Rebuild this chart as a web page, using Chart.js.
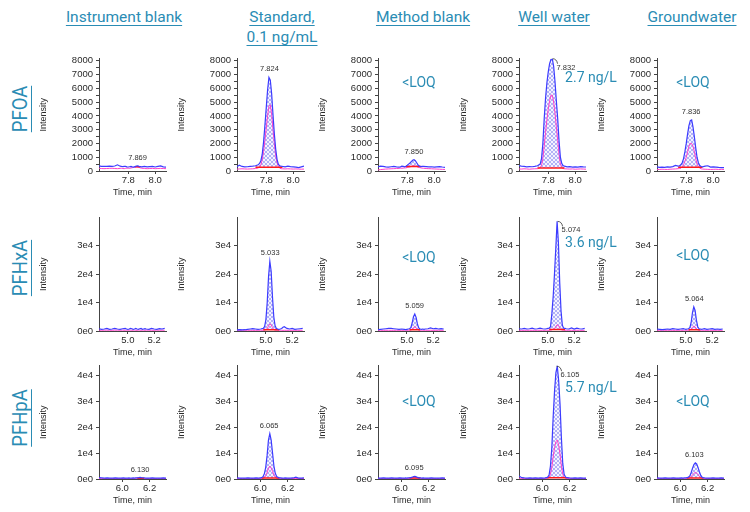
<!DOCTYPE html>
<html>
<head>
<meta charset="utf-8">
<script src="https://cdn.jsdelivr.net/npm/chart.js@4.4.1/dist/chart.umd.min.js"></script>
<style>
  body { margin: 0; background: #fff; }
  #page { position: relative; width: 750px; height: 512px; overflow: hidden; font-family: Roboto, "Open Sans", sans-serif; }
  .hdr { position: absolute; color: #2a8cb4; font-size: 15.5px; white-space: nowrap;
         text-decoration: underline; text-underline-offset: 3px; text-decoration-thickness: 1px;
         transform: translate(-50%, -50%); }
  .cmp { position: absolute; color: #2a8cb4; font-size: 21px; white-space: nowrap;
         text-decoration: underline; text-underline-offset: 4px; text-decoration-thickness: 1px;
         transform: translate(-50%, -50%) rotate(-90deg) scaleX(0.88); }
  .res { position: absolute; color: #2a8cb4; font-size: 14px; white-space: nowrap;
         transform: translate(-50%, -50%); }
  canvas { position: absolute; }
</style>
</head>
<body>
<div id="page"></div>
<script>
// ---- data ----
const samples = ["Instrument blank", "Standard,", "Method blank", "Well water", "Groundwater"];
const compounds = ["PFOA", "PFHxA", "PFHpA"];

// retention time axes (min)
const pfoaTime = [7.58,7.60,7.62,7.64,7.66,7.68,7.70,7.72,
  7.74,7.75,7.76,7.77,7.78,7.79,7.80,7.81,7.82,7.83,7.84,7.85,7.86,7.87,7.88,7.89,7.90,7.91,7.92,
  7.94,7.96,7.98,8.00,8.02,8.04,8.06,8.08];
const pfhxaTime = [4.78,4.80,4.82,4.84,4.86,4.88,4.90,4.92,4.94,4.96,
  4.98,4.99,5.00,5.01,5.02,5.03,5.04,5.05,5.06,5.07,5.08,5.09,5.10,5.11,5.12,5.13,5.14,
  5.16,5.18,5.20,5.22,5.24,5.26,5.28];
const pfhpaTime = [5.83,5.85,5.87,5.89,5.91,5.93,5.95,5.97,5.99,
  6.01,6.02,6.03,6.04,6.05,6.06,6.07,6.08,6.09,6.10,6.11,6.12,6.13,6.14,6.15,6.16,6.17,6.18,
  6.20,6.22,6.24,6.26,6.28,6.30,6.32];

// quantifier trace (blue), one row per sample
const pfoaQuan = [
  [380,330,340,330,350,330,360,450, 350,330,320,340,330,300,290,310,330,300,280,320,360,380,340,320,300,320,340, 300,320,330,290,330,370,300,280],
  [300,420,330,300,310,330,350,380, 450,550,750,1200,2100,3300,4600,5900,6800,6600,5600,4100,2700,1600,850,480,380,350,330, 300,350,320,300,280,250,300,350],
  [300,350,330,300,280,310,330,300, 280,300,350,330,300,350,420,500,580,680,780,820,750,600,450,350,320,330,340, 320,300,310,280,300,320,290,270],
  [400,350,330,300,320,310,330,380, 500,900,2000,3800,5300,6400,7200,7800,8100,8150,7600,6500,5100,3800,2200,1000,550,400,350, 300,320,280,300,280,320,300,290],
  [300,270,280,260,300,280,320,400, 350,380,450,600,900,1400,2000,2700,3300,3650,3700,3200,2500,1700,1000,600,400,330,300, 350,380,280,300,280,260,250,240]
];
const pfhxaQuan = [
  [800,600,700,900,600,700,900,700,600,800, 900,700,600,700,900,800,600,700,900,700,600,800,900,600,700,800,700, 600,900,700,600,800,700,900],
  [400,500,400,450,600,700,800,700,600,700, 900,1500,4000,10000,19000,24500,21000,12000,5000,1800,900,700,600,700,900,1300,1500, 900,700,900,600,700,800,900],
  [500,600,700,800,900,900,800,700,600,700, 600,500,600,700,800,1200,2800,5000,6000,4800,2500,1100,700,600,700,600,700, 800,1100,800,900,700,800,700],
  [800,700,900,700,800,1000,700,800,1000,800, 700,800,900,1000,1500,6000,12000,20000,29000,38500,31000,17000,7000,2000,1000,900,800, 700,1100,700,1000,800,700,900],
  [700,600,500,600,700,600,800,700,600,700, 800,700,600,700,800,1200,3000,6500,8500,7200,3800,1500,800,700,600,700,800, 600,700,800,600,700,600,700]
];
const pfhpaQuan = [
  [500,400,300,400,350,300,400,350,300, 400,350,300,350,400,300,350,400,350,400,450,500,600,500,450,400,350,300, 300,400,350,300,350,400,300],
  [400,300,350,300,400,350,300,400,350, 500,900,2000,4500,9000,15000,17500,15000,10000,5000,2200,1000,600,450,400,350,300,400, 350,300,400,700,350,300,400],
  [300,350,400,350,300,400,350,300,400, 350,300,400,350,400,450,500,700,950,1000,800,600,450,400,350,400,350,300, 350,400,350,300,350,400,350],
  [1200,500,400,350,400,350,400,350,400, 350,400,500,700,1500,5000,12000,24000,34000,41000,43500,38000,29000,16000,6000,1800,800,500, 400,350,400,350,400,350,300],
  [400,350,300,400,350,300,400,350,300, 400,350,400,450,500,700,1200,2500,4200,5600,6200,5800,4500,2800,1400,700,450,400, 350,300,400,350,300,400,350]
];

// qualifier trace (pink)
const pfoaQual = [
  [200,180,170,180,190,200,180,170, 190,200,180,170,190,210,200,190,220,240,260,280,300,290,260,220,200,190,180, 170,180,190,170,180,190,180,170],
  [130,150,160,150,140,150,160,180, 220,300,450,800,1400,2200,3100,4000,4700,4800,4100,3000,2000,1100,600,300,200,170,160, 150,160,150,140,150,140,130,140],
  [80,100,120,140,150,160,170,180, 190,200,200,210,220,230,250,270,300,330,360,380,360,320,280,250,230,210,200, 180,170,160,150,140,130,120,110],
  [150,140,160,150,130,150,160,170, 250,400,900,1800,2800,3700,4500,5100,5500,5500,5000,4200,3200,2200,1200,500,250,180,160, 150,140,150,130,140,150,140,130],
  [120,110,130,120,110,130,140,150, 170,180,200,300,450,700,1000,1400,1800,2000,2000,1800,1400,900,500,300,200,160,140, 130,120,110,120,130,110,120,110]
];
const pfhxaQual = [
  [300,250,280,300,260,250,300,280,270,300, 250,260,280,300,270,250,280,300,260,250,280,300,270,260,280,250,300, 280,260,250,300,270,280,260],
  [250,230,260,250,240,260,250,240,260,250, 260,300,500,800,1800,2500,2200,1200,500,300,260,250,240,260,250,240,260, 250,240,260,250,240,250,260],
  [250,260,240,250,260,250,240,260,250,240, 250,260,240,250,260,300,600,1200,1500,1200,600,300,260,250,240,260,250, 240,260,250,240,260,250,240],
  [260,250,240,260,250,260,240,250,260,250, 240,260,250,260,300,400,600,800,1500,2200,2000,1000,500,300,260,250,240, 260,250,240,260,250,240,260],
  [250,240,260,250,240,260,250,240,260,250, 240,260,250,240,260,300,700,1300,1700,1400,800,400,260,250,240,260,250, 240,260,250,240,260,250,240]
];
const pfhpaQual = [
  [200,150,180,200,150,180,200,170,150, 200,180,150,170,200,180,150,200,250,300,350,300,250,200,180,150,200,170, 150,200,180,150,170,200,180],
  [200,180,200,190,210,200,190,200,210, 200,250,500,1200,2500,4200,5000,4300,3000,1500,700,300,220,200,190,210,200,190, 200,210,190,200,210,200,190],
  [200,190,210,200,190,200,210,190,200, 210,200,190,200,210,220,250,300,350,400,350,300,250,210,200,190,200,210, 190,200,210,190,200,210,200],
  [300,220,200,210,190,200,210,190,200, 210,200,220,300,500,1800,4500,8500,12000,14500,15000,13000,9500,5000,1800,600,300,220, 200,210,190,200,210,190,200],
  [200,190,210,200,190,200,210,190,200, 210,200,190,200,210,300,500,900,1600,2200,2500,2300,1700,1000,500,300,220,200, 190,210,200,190,200,210,190]
];

// integration window [start, end, baseline level] and labelled retention time
const pfoaWindow = [[7.85,7.89,300],[7.72,7.92,280],[7.79,7.90,320],[7.72,7.92,220],[7.74,7.92,280]];
const pfhxaWindow = [null,[4.98,5.10,400],[5.02,5.10,400],[5.01,5.13,500],[5.02,5.11,400]];
const pfhpaWindow = [[6.11,6.16,300],[6.01,6.14,400],[6.06,6.14,350],[6.03,6.18,450],[6.05,6.17,400]];
const pfoaRT = ["7.869","7.824","7.850","7.832","7.836"];
const pfhxaRT = ["","5.033","5.059","5.074","5.064"];
const pfhpaRT = ["6.130","6.065","6.095","6.105","6.103"];

const pfoaResult = ["","","<LOQ","2.7 ng/L","<LOQ"];
const pfhxaResult = ["","","<LOQ","3.6 ng/L","<LOQ"];
const pfhpaResult = ["","","<LOQ","5.7 ng/L","<LOQ"];

// axes (empty label = minor tick)
const pfoaYTicks = [0,500,1000,1500,2000,2500,3000,3500,4000,4500,5000,5500,6000,6500,7000,7500,8000];
const pfoaYLabels = ["0","","1000","","2000","","3000","","4000","","5000","","6000","","7000","","8000"];
const pfhxaYTicks = [0,10000,20000,30000];
const pfhxaYLabels = ["0e0","1e4","2e4","3e4"];
const pfhpaYTicks = [0,10000,20000,30000,40000];
const pfhpaYLabels = ["0e0","1e4","2e4","3e4","4e4"];
const pfoaXTicks = [7.8, 8.0];
const pfhxaXTicks = [5.0, 5.2];
const pfhpaXTicks = [6.0, 6.2];

// ---- layout ----
const page = document.getElementById("page");
const axisX = [99, 237, 378, 519, 657];
const plotW = 67;
const rowsCfg = [
  { time: pfoaTime, quan: pfoaQuan, qual: pfoaQual, win: pfoaWindow, rt: pfoaRT, res: pfoaResult,
    yt: pfoaYTicks, yl: pfoaYLabels, xt: pfoaXTicks, xmin: 7.583, xmax: 8.08, ymax: 8150,
    top: 54, bottom: 171, labelY: 109, resY: [0, 0, 82, 77, 82] },
  { time: pfhxaTime, quan: pfhxaQuan, qual: pfhxaQual, win: pfhxaWindow, rt: pfhxaRT, res: pfhxaResult,
    yt: pfhxaYTicks, yl: pfhxaYLabels, xt: pfhxaXTicks, xmin: 4.78, xmax: 5.29, ymax: 39800,
    top: 213, bottom: 331, labelY: 268, resY: [0, 0, 257, 242, 255] },
  { time: pfhpaTime, quan: pfhpaQuan, qual: pfhpaQual, win: pfhpaWindow, rt: pfhpaRT, res: pfhpaResult,
    yt: pfhpaYTicks, yl: pfhpaYLabels, xt: pfhpaXTicks, xmin: 5.83, xmax: 6.32, ymax: 43700,
    top: 361, bottom: 479, labelY: 418, resY: [0, 0, 401, 387, 401] }
];
const resDX = [0, 0, 41, 72, 36];

function addDiv(cls, text, x, y) {
  const d = document.createElement("div");
  d.className = cls;
  d.textContent = text;
  d.style.left = x + "px";
  d.style.top = y + "px";
  page.appendChild(d);
}

// column headers and compound labels
const hdrX = [124, 282, 423, 554, 692];
samples.forEach((s, i) => addDiv("hdr", s, hdrX[i], 17));
addDiv("hdr", "0.1 ng/mL", 282, 37);
compounds.forEach((c, i) => addDiv("cmp", c, 20, rowsCfg[i].labelY));

Chart.defaults.font.family = '"Liberation Sans", Arial, sans-serif';
Chart.defaults.color = "#2a2a2a";

// crosshatch fill for the integrated peak
function hatch() {
  const c = document.createElement("canvas");
  c.width = c.height = 4;
  const g = c.getContext("2d");
  g.fillStyle = "rgba(235,235,255,0.6)";
  g.fillRect(0, 0, 4, 4);
  g.fillStyle = "rgba(100,100,235,0.45)";
  for (let i = 0; i < 4; i++) { g.fillRect(i, i, 1, 1); g.fillRect(3 - i, i, 1, 1); }
  return g.createPattern(c, "repeat");
}
const hatchFill = hatch();

const peakLabel = {
  id: "peakLabel",
  afterDatasetsDraw(chart, args, o) {
    if (!o.text) return;
    const ctx = chart.ctx;
    const px = chart.scales.x.getPixelForValue(o.t);
    const py = chart.scales.y.getPixelForValue(o.v);
    ctx.save();
    ctx.font = '7.5px "Liberation Sans", Arial';
    ctx.fillStyle = "#333";
    ctx.textBaseline = "middle";
    if (o.side) {
      ctx.strokeStyle = "#333";
      ctx.lineWidth = 0.8;
      ctx.beginPath();
      ctx.moveTo(px, py);
      ctx.quadraticCurveTo(px + 4, py, px + 5, py + 5);
      ctx.stroke();
      ctx.textAlign = "left";
      ctx.fillText(o.text, px + 4, py + 9);
    } else {
      ctx.textAlign = "center";
      ctx.fillText(o.text, px, py - 8);
    }
    ctx.restore();
  }
};

rowsCfg.forEach(r => {
  axisX.forEach((ax, c) => {
    const padTop = 4, yW = 61, xH = 27, padR = 4;
    const cv = document.createElement("canvas");
    const w = yW + plotW + padR, h = padTop + (r.bottom - r.top) + xH;
    cv.width = w; cv.height = h;
    cv.style.left = (ax - yW) + "px";
    cv.style.top = (r.top - padTop) + "px";
    cv.style.width = w + "px"; cv.style.height = h + "px";
    page.appendChild(cv);

    const quan = r.quan[c], qual = r.qual[c], win = r.win[c];
    const blue = r.time.map((t, i) => ({ x: t, y: quan[i] }));
    const pink = r.time.map((t, i) => ({ x: t, y: qual[i] }));
    const datasets = [
      { data: blue, borderColor: "#3c3cff", borderWidth: 1.2 },
      { data: win ? [{ x: win[0], y: win[2] }, { x: win[1], y: win[2] }] : [], borderColor: "#ff1a1a", borderWidth: 1.5 },
      { data: pink, borderColor: "#ff40c8", borderWidth: 1 }
    ];
    let apex = 0;
    if (win) {
      const area = r.time.map((t, i) => ({ x: t, y: (t >= win[0] - 1e-6 && t <= win[1] + 1e-6) ? quan[i] : null }));
      area.forEach(p => { if (p.y !== null && p.y > apex) apex = p.y; });
      datasets.push({ data: area, borderWidth: 0, borderColor: "rgba(0,0,0,0)", spanGaps: false,
        fill: { target: { value: win[2] }, above: hatchFill, below: hatchFill } });
    }

    new Chart(cv, {
      type: "line",
      data: { datasets: datasets.map(d => Object.assign({ pointRadius: 0, tension: 0, fill: false }, d)) },
      plugins: [peakLabel],
      options: {
        responsive: false, animation: false,
        layout: { padding: { top: padTop, right: padR, left: 0, bottom: 0 } },
        plugins: {
          legend: { display: false }, tooltip: { enabled: false },
          peakLabel: { text: r.rt[c], t: parseFloat(r.rt[c]), v: apex, side: c === 3 }
        },
        scales: {
          x: {
            type: "linear", min: r.xmin, max: r.xmax,
            afterBuildTicks: s => { s.ticks = r.xt.map(v => ({ value: v })); },
            afterFit: s => { s.height = xH; },
            grid: { drawOnChartArea: false, tickLength: 3, color: "#444" },
            border: { color: "#444", width: 1 },
            ticks: { font: { size: 9.5 }, padding: 1, maxRotation: 0, autoSkip: false, callback: v => v.toFixed(1) },
            title: { display: true, text: "Time, min", font: { size: 9 }, padding: 0 }
          },
          y: {
            min: 0, max: r.ymax,
            afterBuildTicks: s => { s.ticks = r.yt.map(v => ({ value: v })); },
            afterFit: s => { s.width = yW; },
            grid: { drawOnChartArea: false, tickLength: 3, color: "#444" },
            border: { color: "#444", width: 1 },
            ticks: { font: { size: 9.5 }, padding: 3, autoSkip: false, callback: (v, i) => r.yl[i] },
            title: { display: true, text: "Intensity", font: { size: 9 }, padding: 0 }
          }
        }
      }
    });

    if (r.res[c]) addDiv("res", r.res[c], ax + resDX[c], r.resY[c]);
  });
});
</script>
</body>
</html>
